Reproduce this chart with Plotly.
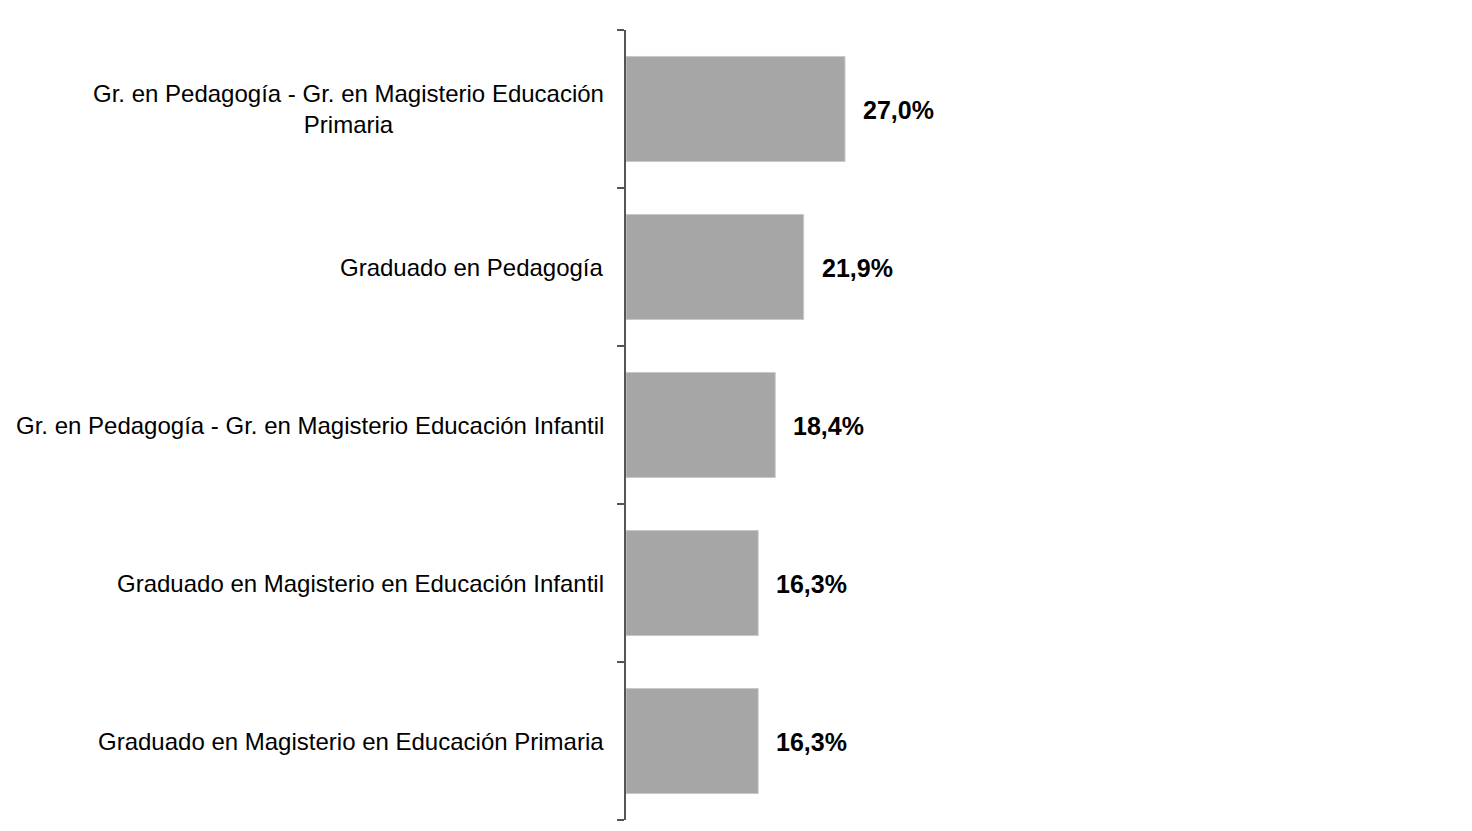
import plotly.graph_objects as go

categories = [
    "Gr. en Pedagogía - Gr. en Magisterio Educación<br>Primaria",
    "Graduado en Pedagogía",
    "Gr. en Pedagogía - Gr. en Magisterio Educación Infantil",
    "Graduado en Magisterio en Educación Infantil",
    "Graduado en Magisterio en Educación Primaria",
]
values = [27.0, 21.9, 18.4, 16.3, 16.3]
value_labels = ["27,0%", "21,9%", "18,4%", "16,3%", "16,3%"]

# page has an 8px body margin
OFF = 8
W, H = 1472 - OFF, 831 - OFF
L, R, T, B = 626 - OFF, 35, 30 - OFF, 11

fig = go.Figure()
fig.add_trace(go.Bar(
    x=values, y=categories, orientation="h",
    marker=dict(color="#A6A6A6", line=dict(color="#C8C8C8", width=1)),
    width=0.665, hoverinfo="skip",
))

annotations = []
for c, v, t in zip(categories, values, value_labels):
    annotations.append(dict(
        x=0, y=c, xref="x", yref="y", text=c, showarrow=False,
        xanchor="right", yanchor="middle", align="center", xshift=-20,
        font=dict(family="Liberation Sans, Arial", size=24, color="#000000"),
    ))
    annotations.append(dict(
        x=v, y=c, xref="x", yref="y", text="<b>" + t + "</b>", showarrow=False,
        xanchor="left", yanchor="middle", xshift=16, yshift=-1,
        font=dict(family="Liberation Sans, Arial", size=25, color="#000000"),
    ))

# category boundaries for tick marks
boundaries = [i - 0.5 for i in range(len(categories) + 1)]

fig.update_layout(
    width=W, height=H,
    margin=dict(l=L, r=R, t=T, b=B, pad=0),
    paper_bgcolor="#FFFFFF", plot_bgcolor="rgba(0,0,0,0)",
    showlegend=False,
    annotations=annotations,
    xaxis=dict(range=[0, 100], visible=False, fixedrange=True),
    yaxis=dict(
        type="category", categoryorder="array", categoryarray=categories,
        autorange=False, range=[4.5, -0.5],
        showticklabels=False, tickmode="array", tickvals=boundaries,
        ticks="outside", ticklen=7, tickcolor="#555555", tickwidth=1.5,
        showline=True, linecolor="#555555", linewidth=1.5,
        showgrid=False, zeroline=False, fixedrange=True,
    ),
)

fig.write_html("out.html", config={"displayModeBar": False})
